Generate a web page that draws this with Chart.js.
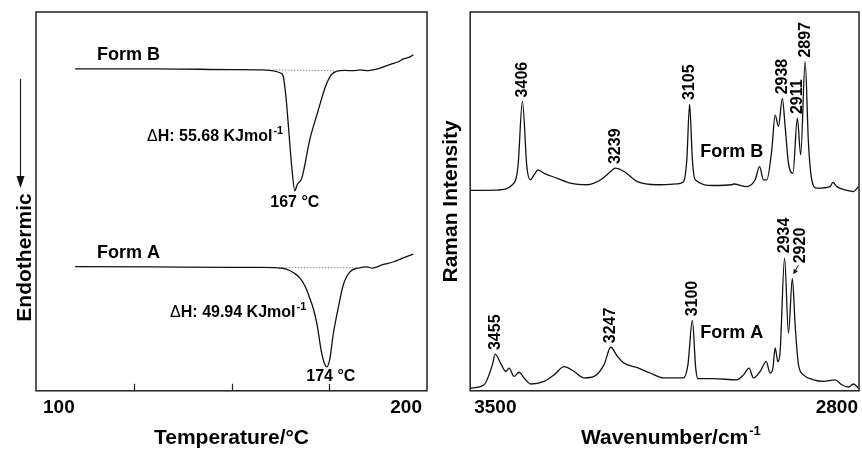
<!DOCTYPE html>
<html>
<head>
<meta charset="utf-8">
<script src="https://cdn.jsdelivr.net/npm/chart.js@4.4.0/dist/chart.umd.min.js"></script>
<style>
body { margin: 0; background: #fff; }
canvas { position: absolute; top: 0; }
#dscChart { left: 0; }
#ramanChart { left: 431px; }
</style>
</head>
<body>
<canvas id="dscChart" width="431" height="451"></canvas>
<canvas id="ramanChart" width="431" height="451"></canvas>
<script>
// DSC traces: temperature (°C) and heat flow (arbitrary units, endo down)
var dscTempB = [110,130,150,158,161,162.5,163.2,164,164.7,165.4,166.2,166.8,168,170,172,174,175.5,177,179,181,183,185,186.5,188,189.5,191,192.5,194,195.5,196.5];
var dscHeatB = [85.0,85.0,84.8,84.7,84.4,83.9,83.1,76.8,68.0,59.2,52.8,54.4,56.2,66.2,73.4,80.2,83.4,84.4,84.6,84.5,84.7,84.5,84.8,85.2,85.8,86.3,86.8,87.6,88.1,88.7];
var dscTempA = [110,130,150,158,161.5,164,166,167.5,169,170,171,171.9,173,173.9,174.4,175.2,176,177.3,178.6,180.3,183,184.6,186,188.7,191.3,193.9,196.5];
var dscHeatA = [32.8,32.7,32.6,32.6,32.5,32.1,31.1,29.8,27.2,24.5,21.4,17.4,10.3,6.9,6.3,8.7,14.8,21.9,28.0,31.4,32.5,32.7,32.4,33.3,34.0,35.1,36.1];
// integration baselines
var dscBaseTempB = [160.6, 177];
var dscBaseHeatB = [84.7, 84.5];
var dscBaseTempA = [161.6, 183];
var dscBaseHeatA = [32.5, 32.5];
var dscPeaks = [167, 174];
var dscEnthalpy = ['55.68', '49.94'];
var dscTicks = [100, 125, 150, 175, 200];
var dscTickLabels = [100, 200];

// Raman spectra: wavenumber (cm-1) and intensity
var ramanWnB = [3500,3451,3424,3414,3406,3398,3392,3385,3378,3367,3343,3319,3289,3265,3247,3239,3223,3199,3163,3128,3116,3110,3105,3100,3095,3062,3029,3026,3002,2987,2979,2972,2966,2957,2951,2945,2938,2933,2927,2919,2911,2905,2897,2891,2885,2876,2852,2847,2840,2822,2810,2801];
var ramanIntB = [52.9,53.0,54.4,59.2,76.4,59.2,55.7,57.0,58.3,57.4,56.1,54.8,54.4,55.7,57.9,58.8,57.9,55.2,54.4,54.6,55.2,61.0,75.7,61.0,55.7,54.2,54.4,54.6,53.9,55.7,59.2,55.7,55.7,63.6,72.8,69.8,77.2,69.8,60.1,57.4,72.0,62.3,86.9,65.4,55.7,53.5,53.9,55.0,53.9,52.9,52.6,53.9];
var ramanWnA = [3500,3475,3460,3455,3444,3436,3430,3421,3412,3403,3391,3367,3349,3331,3313,3295,3277,3259,3247,3235,3223,3199,3176,3152,3116,3108,3100,3094,3090,3062,3020,3008,2998,2990,2978,2967,2960,2955,2951,2946,2942,2934,2927,2920,2915,2909,2900,2882,2864,2843,2831,2819,2810,2801];
var ramanIntA = [0.7,1.6,6.9,9.7,6.9,5.1,6.0,3.8,4.9,3.4,1.8,2.5,4.2,6.4,5.1,3.4,3.8,6.9,11.5,9.1,7.3,6.1,4.7,3.4,3.4,6.9,18.6,6.0,3.2,3.2,2.9,4.2,6.0,3.4,5.1,7.7,4.7,6.0,11.3,7.7,10.4,35.0,15.2,29.7,17.4,6.9,4.2,2.9,2.5,2.9,1.6,1.0,1.8,0.7];
var ramanPeaksB = [3406, 3239, 3105, 2938, 2911, 2897];
var ramanPeaksA = [3455, 3247, 3100, 2934, 2920];
var ramanTicks = [3500, 2800];

var FONT = '"Liberation Sans", Arial, Helvetica, sans-serif';
Chart.defaults.font.family = FONT;
Chart.defaults.color = '#000';

function pts(xs, ys) {
  return xs.map(function (x, i) { return { x: x, y: ys[i] }; });
}

function trace(data, dotted) {
  return {
    data: data,
    borderColor: dotted ? '#8a8a8a' : '#111',
    borderWidth: dotted ? 1 : 1.3,
    borderDash: dotted ? [1.5, 1.5] : [],
    pointRadius: 0,
    cubicInterpolationMode: 'monotone',
    fill: false
  };
}

function txt(ctx, s, x, y, size, align, weight) {
  ctx.font = (weight || 'bold') + ' ' + size + 'px ' + FONT;
  ctx.textAlign = align || 'left';
  ctx.textBaseline = 'middle';
  ctx.fillStyle = '#000';
  ctx.fillText(s, x, y);
  return ctx.measureText(s).width;
}

function enthalpy(ctx, val, x, y) {
  var w = txt(ctx, '\u0394', x, y, 16, 'left', 'normal');
  w += txt(ctx, 'H: ' + val + ' KJmol', x + w, y, 16);
  txt(ctx, '-1', x + w + 1, y - 6, 11);
}

// frame round the plot area + end labels of the x axis, kept just inside the frame
function framePlugin(labels, inset) {
  return {
    id: 'frame',
    afterDraw: function (chart) {
      var a = chart.chartArea, ctx = chart.ctx, X = chart.scales.x;
      ctx.save();
      ctx.strokeStyle = '#222';
      ctx.lineWidth = 1.5;
      ctx.strokeRect(a.left, a.top, a.right - a.left, a.bottom - a.top);
      var mid = (a.left + a.right) / 2;
      labels.forEach(function (v) {
        var px = X.getPixelForValue(v);
        if (px < mid) txt(ctx, String(v), px + inset[0], a.bottom + 17, 19, 'left');
        else txt(ctx, String(v), px - inset[1], a.bottom + 17, 19, 'right');
      });
      ctx.restore();
    }
  };
}

var dscNotes = {
  id: 'dscNotes',
  afterDraw: function (chart) {
    var ctx = chart.ctx, X = chart.scales.x, Y = chart.scales.y, a = chart.chartArea;
    ctx.save();
    txt(ctx, 'Form B', X.getPixelForValue(115.6), Y.getPixelForValue(88.7), 18);
    enthalpy(ctx, dscEnthalpy[0], X.getPixelForValue(128.4), Y.getPixelForValue(67));
    txt(ctx, dscPeaks[0] + ' \u00B0C', X.getPixelForValue(166.2), Y.getPixelForValue(49.6), 16, 'center');
    txt(ctx, 'Form A', X.getPixelForValue(115.6), Y.getPixelForValue(36.4), 18);
    enthalpy(ctx, dscEnthalpy[1], X.getPixelForValue(134.3), Y.getPixelForValue(20.6));
    txt(ctx, dscPeaks[1] + ' \u00B0C', X.getPixelForValue(175.4), Y.getPixelForValue(3.7), 16, 'center');

    // inner tick marks
    ctx.strokeStyle = '#222';
    ctx.lineWidth = 1.2;
    dscTicks.forEach(function (t) {
      if (dscTickLabels.indexOf(t) >= 0) return;
      var px = Math.round(X.getPixelForValue(t)) + 0.5;
      ctx.beginPath();
      ctx.moveTo(px, a.bottom);
      ctx.lineTo(px, a.bottom - 7);
      ctx.stroke();
    });

    // y caption with arrow
    ctx.save();
    ctx.translate(31, 257.5);
    ctx.rotate(-Math.PI / 2);
    ctx.font = 'bold 21px ' + FONT;
    ctx.textAlign = 'center';
    ctx.textBaseline = 'alphabetic';
    ctx.fillText('Endothermic', 0, 0);
    ctx.restore();
    ctx.strokeStyle = '#222';
    ctx.lineWidth = 1.2;
    ctx.beginPath();
    ctx.moveTo(20.5, 79);
    ctx.lineTo(20.5, 178);
    ctx.stroke();
    ctx.fillStyle = '#111';
    ctx.beginPath();
    ctx.moveTo(16.5, 176);
    ctx.lineTo(24.5, 176);
    ctx.lineTo(20.5, 188);
    ctx.closePath();
    ctx.fill();
    ctx.restore();
  }
};

var ramanNotes = {
  id: 'ramanNotes',
  afterDraw: function (chart) {
    var ctx = chart.ctx, X = chart.scales.x, Y = chart.scales.y;
    ctx.save();
    function peakLabels(peaks, wn, inten, shift) {
      peaks.forEach(function (p, i) {
        var k = wn.indexOf(p);
        var s = shift[i] || [0, 0];
        var px = X.getPixelForValue(p) + s[0];
        var py = Y.getPixelForValue(inten[k]) - 4 + s[1];
        ctx.save();
        ctx.translate(px, py);
        ctx.rotate(-Math.PI / 2);
        txt(ctx, String(p), 0, 0, 16, 'left');
        ctx.restore();
      });
    }
    peakLabels(ramanPeaksB, ramanWnB, ramanIntB, []);
    peakLabels(ramanPeaksA, ramanWnA, ramanIntA, [null, null, null, [0, -1], [8, -11]]);

    // arrow from the 2920 label to its peak
    var k = ramanWnA.indexOf(2920);
    var px = X.getPixelForValue(2920), py = Y.getPixelForValue(ramanIntA[k]);
    var sx = px + 6, sy = py - 13, ex = px + 1, ey = py - 4;
    var dx = ex - sx, dy = ey - sy, len = Math.hypot(dx, dy);
    dx /= len; dy /= len;
    ctx.strokeStyle = '#111';
    ctx.lineWidth = 1;
    ctx.beginPath();
    ctx.moveTo(sx, sy);
    ctx.lineTo(ex - dx * 3, ey - dy * 3);
    ctx.stroke();
    ctx.fillStyle = '#111';
    ctx.beginPath();
    ctx.moveTo(ex, ey);
    ctx.lineTo(ex - dx * 5 - dy * 2.5, ey - dy * 5 + dx * 2.5);
    ctx.lineTo(ex - dx * 5 + dy * 2.5, ey - dy * 5 - dx * 2.5);
    ctx.closePath();
    ctx.fill();

    txt(ctx, 'Form B', X.getPixelForValue(3086), Y.getPixelForValue(63.1), 18);
    txt(ctx, 'Form A', X.getPixelForValue(3086), Y.getPixelForValue(15.3), 18);

    // superscript on the x title
    ctx.font = 'bold 21px ' + FONT;
    var tw = ctx.measureText(X.options.title.text).width;
    var cx = (X.left + X.right) / 2;
    var ty = X.bottom - X.options.title.padding.bottom - 12.6;
    txt(ctx, '-1', cx + tw / 2 + 1, ty - 7, 13);
    ctx.restore();
  }
};

var titleFont = { size: 21, weight: 'bold' };

new Chart(document.getElementById('dscChart'), {
  type: 'line',
  data: {
    datasets: [
      trace(pts(dscBaseTempB, dscBaseHeatB), true),
      trace(pts(dscBaseTempA, dscBaseHeatA), true),
      trace(pts(dscTempB, dscHeatB)),
      trace(pts(dscTempA, dscHeatA))
    ]
  },
  options: {
    responsive: false,
    animation: false,
    layout: { padding: { left: 36, top: 12, right: 4, bottom: 0 } },
    plugins: { legend: { display: false }, tooltip: { enabled: false } },
    scales: {
      x: {
        type: 'linear', min: 100, max: 200,
        grid: { display: false, drawTicks: false },
        border: { display: false },
        ticks: { display: false },
        title: { display: true, text: 'Temperature/\u00B0C', font: titleFont, padding: { top: 35, bottom: 0 } }
      },
      y: { display: false, min: 0, max: 100 }
    }
  },
  plugins: [framePlugin(dscTickLabels, [7, 5]), dscNotes]
});

new Chart(document.getElementById('ramanChart'), {
  type: 'line',
  data: {
    datasets: [
      trace(pts(ramanWnB, ramanIntB)),
      trace(pts(ramanWnA, ramanIntA))
    ]
  },
  options: {
    responsive: false,
    animation: false,
    layout: { padding: { left: 8, top: 12, right: 3, bottom: 0 } },
    plugins: { legend: { display: false }, tooltip: { enabled: false } },
    scales: {
      x: {
        type: 'linear', min: 2800, max: 3500, reverse: true,
        grid: { display: false, drawTicks: false },
        border: { display: false },
        ticks: { display: false },
        title: { display: true, text: 'Wavenumber/cm', font: titleFont, padding: { top: 35, bottom: 0 } }
      },
      y: {
        min: 0, max: 100,
        grid: { display: false, drawTicks: false },
        border: { display: false },
        ticks: { display: false },
        title: { display: true, text: 'Raman Intensity', font: titleFont, padding: { top: 0, bottom: 6 } }
      }
    }
  },
  plugins: [framePlugin(ramanTicks, [4, 1]), ramanNotes]
});
</script>
</body>
</html>
